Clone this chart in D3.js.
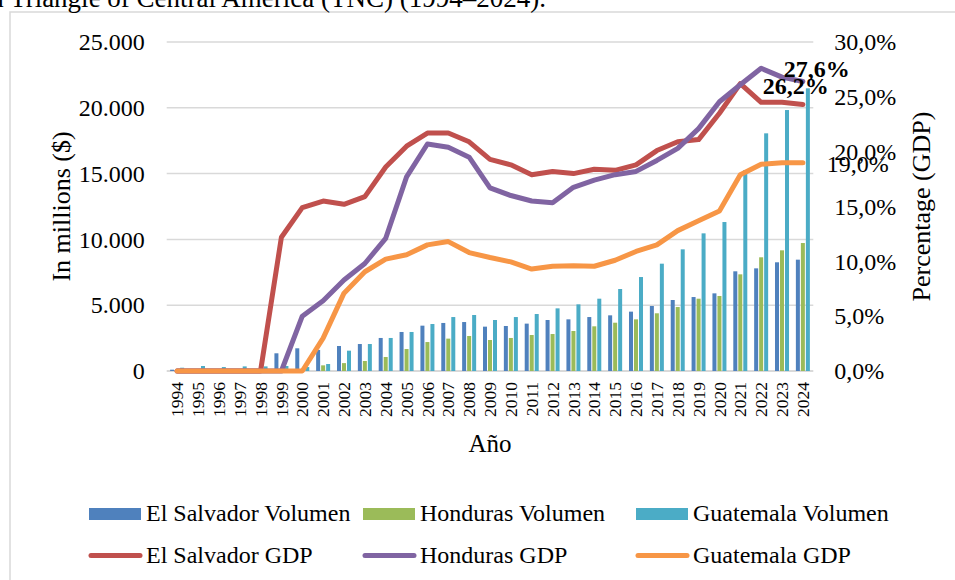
<!DOCTYPE html>
<html>
<head>
<meta charset="utf-8">
<script src="https://cdn.jsdelivr.net/npm/d3@7"></script>
<style>
  body { margin: 0; background: #fff; }
  svg text { font-family: "Liberation Serif", "Times New Roman", serif; fill: #000; }
</style>
</head>
<body>
<svg id="chart" width="955" height="580"></svg>
<script>
(() => {
  // 年份（x 轴类别）
  const years = ['1994','1995','1996','1997','1998','1999','2000','2001','2002','2003',
    '2004','2005','2006','2007','2008','2009','2010','2011','2012','2013','2014',
    '2015','2016','2017','2018','2019','2020','2021','2022','2023','2024'];

  // 柱：百万美元
  const salvadorVol = [100,100,100,100,100,1345,1725,1600,1900,2050,2510,2965,3445,3650,3720,3370,
    3420,3600,3875,3925,4100,4230,4510,4940,5395,5620,5900,7575,7800,8260,8460];
  const hondurasVol = [0,0,0,0,0,0,0,430,600,760,1065,1670,2200,2460,2660,2355,
    2510,2735,2810,3040,3395,3670,3925,4385,4860,5495,5700,7345,8640,9170,9725];
  const guatemalaVol = [250,380,300,350,350,380,300,530,1545,2050,2510,2965,3570,4100,4255,3875,
    4100,4330,4760,5065,5495,6230,7140,8155,9245,10460,11320,15270,18060,19830,21480];

  // 线：占 GDP 百分比
  const salvadorGdp = [0,0,0,0,0,12.2,14.9,15.5,15.2,15.9,18.6,20.5,21.7,21.7,20.9,19.3,
    18.8,17.9,18.2,18.0,18.4,18.3,18.8,20.1,20.9,21.1,23.5,26.2,24.5,24.5,24.3];
  const hondurasGdp = [0,0,0,0,0,0,5.0,6.4,8.3,9.8,12.1,17.7,20.7,20.4,19.5,16.7,
    16.0,15.5,15.35,16.75,17.4,17.9,18.2,19.2,20.3,22.1,24.55,26.1,27.6,26.8,26.4];
  const guatemalaGdp = [0,0,0,0,0,0,0,3.0,7.1,9.05,10.2,10.6,11.5,11.8,10.8,10.35,
    9.95,9.3,9.55,9.6,9.55,10.1,10.9,11.5,12.8,13.7,14.6,17.9,18.85,19.0,19.0];

  // 数据标签
  const labelValues = [26.2, 27.6, 19.0];

  const leftTicks = [0, 5000, 10000, 15000, 20000, 25000];
  const rightTicks = [0, 5, 10, 15, 20, 25, 30];

  const barSeries = [
    { name: 'El Salvador Volumen', values: salvadorVol, color: '#4F81BD' },
    { name: 'Honduras Volumen', values: hondurasVol, color: '#9BBB59' },
    { name: 'Guatemala Volumen', values: guatemalaVol, color: '#4BACC6' }
  ];
  const lineSeries = [
    { name: 'El Salvador GDP', values: salvadorGdp, color: '#C0504D' },
    { name: 'Honduras GDP', values: hondurasGdp, color: '#8064A2' },
    { name: 'Guatemala GDP', values: guatemalaGdp, color: '#F79646' }
  ];

  const locale = d3.formatLocale({ decimal: ',', thousands: '.', grouping: [3], currency: ['', '$'] });
  const fmtLeft = locale.format(',.0f');
  const fmtPct = v => locale.format('.1f')(v) + '%';

  const svg = d3.select('#chart');
  const plot = { left: 166.7, right: 813.3, top: 42, bottom: 371 };

  // 外框 + 截断的标题
  svg.append('path')
    .attr('d', `M10,580V12H955`)
    .attr('fill', 'none').attr('stroke', '#d9d9d9').attr('stroke-width', 1.5);
  svg.append('text')
    .attr('x', 546).attr('y', 7)
    .attr('text-anchor', 'end').style('font-size', '27px')
    .text('Northern Triangle of Central America (TNC) (1994–2024).');

  const x0 = d3.scaleBand().domain(years).range([plot.left, plot.right]).padding(0);
  const x1 = d3.scaleBand().domain(barSeries.map(d => d.name))
    .range([0, x0.bandwidth()]).paddingInner(0.2).paddingOuter(0.686);
  const yLeft = d3.scaleLinear().domain([0, 25000]).range([plot.bottom, plot.top]);
  const yRight = d3.scaleLinear().domain([0, 30]).range([plot.bottom, plot.top]);

  // 网格
  svg.append('g')
    .selectAll('line').data(leftTicks).enter().append('line')
    .attr('x1', plot.left).attr('x2', plot.right)
    .attr('y1', d => yLeft(d)).attr('y2', d => yLeft(d))
    .attr('stroke', '#d9d9d9').attr('stroke-width', d => d === 0 ? 2 : 1.5);

  // 左轴
  const axL = svg.append('g')
    .attr('transform', `translate(${plot.left},0)`)
    .call(d3.axisLeft(yLeft).tickValues(leftTicks).tickFormat(fmtLeft).tickSize(0).tickPadding(22));
  axL.select('.domain').remove();
  axL.selectAll('text').style('font-size', '24px');

  // 右轴
  const axR = svg.append('g')
    .attr('transform', `translate(${plot.right},0)`)
    .call(d3.axisRight(yRight).tickValues(rightTicks).tickFormat(fmtPct).tickSize(0).tickPadding(21));
  axR.select('.domain').remove();
  axR.selectAll('text').style('font-size', '24px');

  // x 轴（年份竖排）
  svg.append('g').selectAll('text').data(years).enter().append('text')
    .attr('transform', d => `translate(${x0(d) + x0.bandwidth() / 2},382) rotate(-90)`)
    .attr('text-anchor', 'end').attr('dy', '0.35em')
    .style('font-size', '17.5px')
    .text(d => d);

  // 轴标题
  svg.append('text')
    .attr('transform', `translate(70,${(plot.top + plot.bottom) / 2}) rotate(-90)`)
    .attr('text-anchor', 'middle').style('font-size', '26px')
    .text('In millions ($)');
  svg.append('text')
    .attr('transform', `translate(930,${(plot.top + plot.bottom) / 2}) rotate(-90)`)
    .attr('text-anchor', 'middle').style('font-size', '26px')
    .text('Percentage (GDP)');
  svg.append('text')
    .attr('x', (plot.left + plot.right) / 2).attr('y', 452)
    .attr('text-anchor', 'middle').style('font-size', '25px')
    .text('Año');

  // 柱
  barSeries.forEach(s => {
    svg.append('g').selectAll('rect').data(s.values).enter().append('rect')
      .attr('x', (d, i) => x0(years[i]) + x1(s.name))
      .attr('y', d => yLeft(d))
      .attr('width', x1.bandwidth())
      .attr('height', d => yLeft(0) - yLeft(d))
      .attr('fill', s.color);
  });

  // 线
  const line = d3.line()
    .x((d, i) => x0(years[i]) + x0.bandwidth() / 2)
    .y(d => yRight(d));
  lineSeries.forEach(s => {
    svg.append('path')
      .datum(s.values)
      .attr('d', line)
      .attr('fill', 'none')
      .attr('stroke', s.color)
      .attr('stroke-width', 5)
      .attr('stroke-linejoin', 'round')
      .attr('stroke-linecap', 'round');
  });

  // 数据标签（贴在 2024 点附近）
  const lastX = x0(years[years.length - 1]) + x0.bandwidth() / 2;
  const labelOffsets = [[-7, -11, 'bold'], [14, -4, 'bold'], [55, 9, 'normal']];
  labelValues.forEach((v, k) => {
    const s = lineSeries[k];
    const [dx, dy, w] = labelOffsets[k];
    svg.append('text')
      .attr('x', lastX + dx)
      .attr('y', yRight(s.values[s.values.length - 1]) + dy)
      .attr('text-anchor', 'middle')
      .style('font-size', '24px').style('font-weight', w)
      .text(fmtPct(v));
  });

  // 图例
  const legendCols = [89, 363, 636];
  const lg = svg.append('g');
  barSeries.forEach((s, i) => {
    lg.append('rect')
      .attr('x', legendCols[i]).attr('y', 508)
      .attr('width', 52).attr('height', 12)
      .attr('fill', s.color);
    lg.append('text')
      .attr('x', legendCols[i] + 57).attr('y', 521)
      .style('font-size', '24px').text(s.name);
  });
  lineSeries.forEach((s, i) => {
    lg.append('line')
      .attr('x1', legendCols[i] + 2).attr('x2', legendCols[i] + 51)
      .attr('y1', 555.5).attr('y2', 555.5)
      .attr('stroke', s.color).attr('stroke-width', 5)
      .attr('stroke-linecap', 'round');
    lg.append('text')
      .attr('x', legendCols[i] + 57).attr('y', 563)
      .style('font-size', '24px').text(s.name);
  });
})();
</script>
</body>
</html>
